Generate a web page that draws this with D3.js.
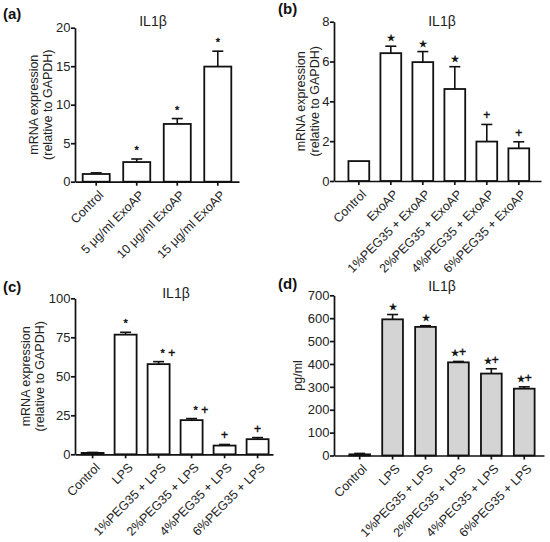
<!DOCTYPE html>
<html>
<head>
<meta charset="utf-8">
<script src="https://cdn.jsdelivr.net/npm/d3@7"></script>
<style>
  body { margin: 0; background: #fff; }
  svg { font-family: "Liberation Sans", Arial, sans-serif; }
</style>
</head>
<body>
<div id="chart"></div>
<script>
// panel (a): IL1b vs ExoAP dose
var labelsA = ["Control", "5 μg/ml ExoAP", "10 μg/ml ExoAP", "15 μg/ml ExoAP"];
var meansA = [1.0, 2.55, 7.5, 14.95];
var errsA = [0.15, 0.4, 0.7, 2.0];
var marksA = ["", "*", "*", "*"];
var ticksA = [0, 5, 10, 15, 20];

// panel (b): PEG35 + ExoAP
var labelsB = ["Control", "ExoAP", "1%PEG35 + ExoAP", "2%PEG35 + ExoAP", "4%PEG35 + ExoAP", "6%PEG35 + ExoAP"];
var meansB = [1.0, 6.42, 5.97, 4.62, 1.98, 1.64];
var errsB = [0, 0.35, 0.53, 1.12, 0.86, 0.33];
var marksB = ["", "★", "★", "★", "+", "+"];
var ticksB = [0, 2, 4, 6, 8];

// panel (c): PEG35 + LPS, mRNA
var labelsC = ["Control", "LPS", "1%PEG35 + LPS", "2%PEG35 + LPS", "4%PEG35 + LPS", "6%PEG35 + LPS"];
var meansC = [0.9, 76.7, 57.8, 21.9, 5.6, 9.7];
var errsC = [0.3, 1.5, 1.6, 1.0, 0.7, 1.0];
var marksC = ["", "*", "* +", "* +", "+", "+"];
var ticksC = [0, 25, 50, 75, 100];

// panel (d): PEG35 + LPS, protein
var labelsD = ["Control", "LPS", "1%PEG35 + LPS", "2%PEG35 + LPS", "4%PEG35 + LPS", "6%PEG35 + LPS"];
var meansD = [5, 595, 562, 407, 358, 292];
var errsD = [4, 21, 5, 4, 21, 8];
var marksD = ["", "★", "★", "★+", "★+", "★+"];
var ticksD = [0, 100, 200, 300, 400, 500, 600, 700];

var w = 550, h = 542;

// glyph sizes for the significance marks
var markSizes = { "*": 11, "+": 12, "★": 9, " ": 12 };

var svg = d3.select("#chart")
    .append("svg")
    .attr("width", w)
    .attr("height", h);

function drawPanel(p) {
    var g = svg.append("g");

    var x = d3.scaleBand()
        .domain(p.labels)
        .range(p.xr)
        .paddingInner(p.pi)
        .paddingOuter(p.po)
        .align(p.al);

    var y = d3.scaleLinear()
        .domain([0, p.ticks[p.ticks.length - 1]])
        .range(p.yr);

    var rows = p.labels.map(function(d, i) {
        return { name: d, mean: p.means[i], err: p.errs[i], mark: p.marks[i] };
    });

    // error bars (upper only)
    var eb = g.selectAll(".err")
        .data(rows.filter(function(d) { return d.err > 0; }))
        .enter()
        .append("g")
        .attr("class", "err")
        .attr("stroke", "#111")
        .attr("stroke-width", 1.6);
    eb.append("line")
        .attr("x1", function(d) { return x(d.name) + x.bandwidth() / 2; })
        .attr("x2", function(d) { return x(d.name) + x.bandwidth() / 2; })
        .attr("y1", function(d) { return y(d.mean); })
        .attr("y2", function(d) { return y(d.mean + d.err); });
    eb.append("line")
        .attr("x1", function(d) { return x(d.name) + x.bandwidth() / 2 - 5.5; })
        .attr("x2", function(d) { return x(d.name) + x.bandwidth() / 2 + 5.5; })
        .attr("y1", function(d) { return y(d.mean + d.err); })
        .attr("y2", function(d) { return y(d.mean + d.err); });

    g.selectAll(".bar")
        .data(rows)
        .enter()
        .append("rect")
        .attr("class", "bar")
        .attr("x", function(d) { return x(d.name); })
        .attr("width", x.bandwidth())
        .attr("y", function(d) { return y(d.mean); })
        .attr("height", function(d) { return y(0) - y(d.mean); })
        .attr("fill", p.fill)
        .attr("stroke", "#111")
        .attr("stroke-width", 1.8);

    // significance marks
    var marks = g.selectAll(".mark")
        .data(rows)
        .enter()
        .append("text")
        .attr("class", "mark")
        .attr("x", function(d) {
            var c = x(d.name) + x.bandwidth() / 2;
            return d.mark.length > 1 ? c + p.multiDx : c;
        })
        .attr("y", function(d) { return y(d.mean + d.err) - 5; })
        .attr("text-anchor", function(d) { return d.mark.length > 1 ? p.multiAnchor : "middle"; })
        .attr("fill", "#111")
        .attr("stroke", "#111")
        .attr("stroke-width", 0.4);
    marks.selectAll("tspan")
        .data(function(d) { return d.mark.split(""); })
        .enter()
        .append("tspan")
        .style("font-size", function(c) { return markSizes[c] + "px"; })
        .text(function(c) { return c === " " ? "\u00A0" : c; });

    var yAxis = g.append("g")
        .attr("transform", "translate(" + p.xr[0] + ",0)")
        .call(d3.axisLeft(y).tickValues(p.ticks).tickSize(4).tickSizeOuter(0).tickPadding(0.5));
    yAxis.selectAll("text").style("font-size", "13px").attr("fill", "#222");

    var xAxis = g.append("g")
        .attr("transform", "translate(0," + p.yr[0] + ")")
        .call(d3.axisBottom(x).tickSize(4).tickSizeOuter(0));
    xAxis.selectAll("text")
        .attr("y", 0)
        .attr("x", 0)
        .attr("dy", "0.35em")
        .attr("transform", "translate(5,11) rotate(-45)")
        .attr("text-anchor", "end")
        .style("font-size", "12.5px")
        .attr("fill", "#222");

    [yAxis, xAxis].forEach(function(a) {
        a.selectAll("path, line").attr("stroke", "#111").attr("stroke-width", 1.7);
    });

    // y axis title
    p.ytitle.forEach(function(t, i) {
        g.append("text")
            .attr("transform", "translate(" + (p.ytx + i * 14) + "," + ((p.yr[0] + p.yr[1]) / 2) + ") rotate(-90)")
            .attr("text-anchor", "middle")
            .style("font-size", "12.5px")
            .attr("fill", "#222")
            .text(t);
    });

    g.append("text")
        .attr("x", p.tx)
        .attr("y", p.ty)
        .attr("text-anchor", "middle")
        .style("font-size", "14px")
        .attr("fill", "#222")
        .text("IL1β");

    g.append("text")
        .attr("x", p.lx)
        .attr("y", p.ly)
        .style("font-size", "15px")
        .attr("font-weight", "bold")
        .attr("fill", "#111")
        .text(p.letter);
}

drawPanel({
    labels: labelsA, means: meansA, errs: errsA, marks: marksA, ticks: ticksA,
    xr: [75, 239], yr: [181.7, 27.7], pi: 0.333, po: 0.19, al: 0.5,
    fill: "#fff", multiDx: 0, multiAnchor: "middle",
    ytitle: ["mRNA expression", "(relative to GAPDH)"], ytx: 37.5,
    tx: 153, ty: 26, letter: "(a)", lx: 3, ly: 19
});

drawPanel({
    labels: labelsB, means: meansB, errs: errsB, marks: marksB, ticks: ticksB,
    xr: [334, 541], yr: [181, 21.7], pi: 0.35, po: 0.41, al: 0.55,
    fill: "#fff", multiDx: 0, multiAnchor: "middle",
    ytitle: ["mRNA expression", "(relative to GAPDH)"], ytx: 305,
    tx: 442, ty: 26, letter: "(b)", lx: 278, ly: 14
});

drawPanel({
    labels: labelsC, means: meansC, errs: errsC, marks: marksC, ticks: ticksC,
    xr: [75, 273], yr: [454.3, 298.3], pi: 0.333, po: 0.1667, al: 0.6,
    fill: "#fff", multiDx: 2, multiAnchor: "start",
    ytitle: ["mRNA expression", "(relative to GAPDH)"], ytx: 30,
    tx: 176, ty: 298, letter: "(c)", lx: 3, ly: 292
});

drawPanel({
    labels: labelsD, means: meansD, errs: errsD, marks: marksD, ticks: ticksD,
    xr: [334, 544], yr: [455.5, 295.3], pi: 0.37, po: 0.375, al: 0.62,
    fill: "#d4d4d4", multiDx: 0, multiAnchor: "middle",
    ytitle: ["pg/ml"], ytx: 302,
    tx: 442, ty: 291, letter: "(d)", lx: 278, ly: 289
});
</script>
</body>
</html>
